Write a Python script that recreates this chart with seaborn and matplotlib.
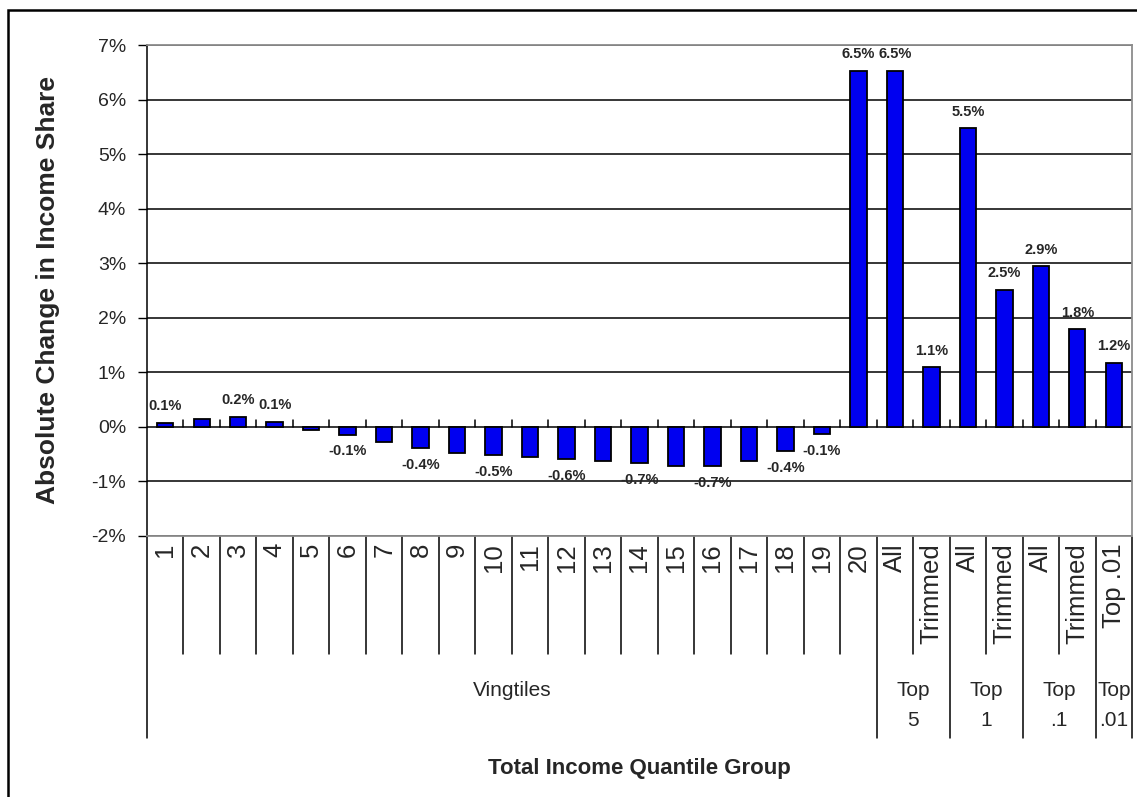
import matplotlib
matplotlib.use("Agg")
import matplotlib.pyplot as plt
from matplotlib.patches import Rectangle
import pandas as pd
import seaborn as sns

# ---- data -------------------------------------------------------------
groups = ["Vingtiles"] * 20 + ["Top 5"] * 2 + ["Top 1"] * 2 + ["Top .1"] * 2 + ["Top .01"]
tick_labels = [str(i) for i in range(1, 21)] + [
    "All", "Trimmed", "All", "Trimmed", "All", "Trimmed", "Top .01"]
change_pct = [0.08, 0.14, 0.19, 0.09, -0.05, -0.14, -0.27, -0.39, -0.47, -0.52,
              -0.55, -0.59, -0.62, -0.67, -0.72, -0.72, -0.62, -0.44, -0.13, 6.53,
              6.53, 1.09, 5.47, 2.51, 2.94, 1.79, 1.17]
show_label = [True, False, True, True, False, True, False, True, False, True,
              False, True, False, True, False, True, False, True, True, True,
              True, True, True, True, True, True, True]
group_order = ["Vingtiles", "Top 5", "Top 1", "Top .1", "Top .01"]
group_titles = ["Vingtiles", "Top\n5", "Top\n1", "Top\n.1", "Top\n.01"]
y_ticks = [-2, -1, 0, 1, 2, 3, 4, 5, 6, 7]

df = pd.DataFrame({
    "slot": [f"{g}|{t}" for g, t in zip(groups, tick_labels)],
    "group": groups,
    "label": tick_labels,
    "change": change_pct,
})

# ---- style ------------------------------------------------------------
sns.set_style("white")
plt.rcParams["font.family"] = ["Liberation Sans", "DejaVu Sans"]

W, H = 1137, 797
fig = plt.figure(figsize=(W / 100, H / 100), dpi=100)
ax = fig.add_axes([147 / W, 1 - 536 / H, 985 / W, 491 / H])

sns.barplot(data=df, x="slot", y="change", order=list(df["slot"]),
            color="#0000F0", saturation=1, width=0.45,
            edgecolor="black", linewidth=1.3, ax=ax, zorder=3)

ax.set_ylim(y_ticks[0], y_ticks[-1])
ax.set_xlim(-0.5, len(df) - 0.5)
ax.set_yticks(y_ticks)
ax.set_yticklabels([f"{v}%" for v in y_ticks], fontsize=14)
ax.tick_params(axis="y", length=6.5, width=1, color="black", pad=8.5, direction="out", left=True)

ax.set_xticks(range(len(df)))
ax.set_xticklabels(df["label"], rotation=90, fontsize=18.5, va="top", ha="center")
ax.tick_params(axis="x", length=0, pad=5)

ax.yaxis.grid(True, color="black", linewidth=1.1)
ax.set_axisbelow(True)
for side in ("top", "right", "bottom"):
    ax.spines[side].set_color("#8c8c8c")
    ax.spines[side].set_linewidth(1.3)
ax.spines["left"].set_color("black")
ax.spines["left"].set_linewidth(1.1)

# category tick marks along the zero line
xt = ax.get_xaxis_transform()
zero_frac = (0 - y_ticks[0]) / (y_ticks[-1] - y_ticks[0])
for k in range(len(df) - 1):
    ax.plot([k + 0.5, k + 0.5], [zero_frac, zero_frac + 0.0145], transform=xt,
            color="black", linewidth=1.1, clip_on=False, zorder=4)

# table-style separators under the axis
short_y = -118 / 491
long_y = -202 / 491
bounds = [-0.5]
for k in range(1, len(df)):
    if groups[k] != groups[k - 1]:
        bounds.append(k - 0.5)
bounds.append(len(df) - 0.5)
for k in range(len(df) + 1):
    x = k - 0.5
    y_end = long_y if x in bounds else short_y
    ax.plot([x, x], [0, y_end], transform=xt, color="black", linewidth=1.1,
            clip_on=False)

# group titles
for g, title in zip(group_order, group_titles):
    idx = [i for i, gg in enumerate(groups) if gg == g]
    xc = sum(idx) / len(idx)
    ax.text(xc, -145 / 491, title, transform=xt, ha="center", va="top",
            fontsize=15, linespacing=1.7)

# value labels
for i, (v, show) in enumerate(zip(change_pct, show_label)):
    if not show:
        continue
    ax.annotate(f"{v:.1f}%", (i, v), xytext=(0, 12 if v >= 0 else -12),
                textcoords="offset points", ha="center", va="center",
                fontsize=10.5, fontweight="bold")

ax.set_ylabel("Absolute Change in Income Share", fontsize=19, fontweight="bold",
              va="center")
ax.yaxis.set_label_coords(-0.1005, 0.5)
ax.set_xlabel("Total Income Quantile Group", fontsize=16, fontweight="bold",
              va="center")
ax.xaxis.set_label_coords(0.5, -0.4745)

# chart frame
fig.patches.append(Rectangle((8 / W, -0.1), 1.2, 1 - 9.5 / H + 0.1,
                             transform=fig.transFigure, fill=False,
                             edgecolor="black", linewidth=1.8))

fig.savefig("out.png", dpi=100)
